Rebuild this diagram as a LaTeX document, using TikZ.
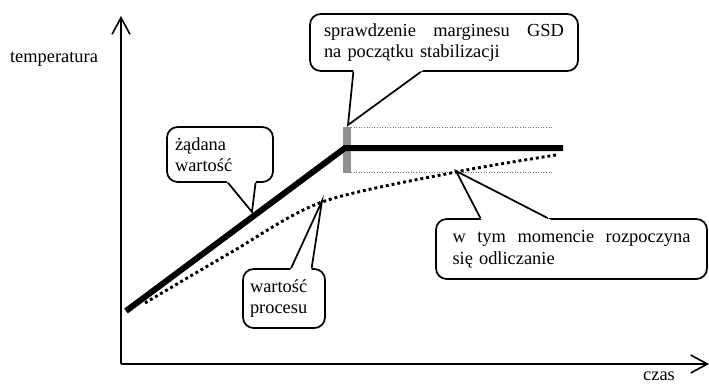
\documentclass[tikz,border=0pt]{standalone}
\usepackage{fontspec}
\setmainfont{Liberation Serif}
\usetikzlibrary{arrows.meta}
\usetikzlibrary{calc}

\begin{document}
\begin{tikzpicture}[x=0.75pt, y=-0.75pt,
    font=\fontsize{13.8}{16.1}\selectfont,
    callout/.style={draw, line width=1.3pt, rounded corners=8pt, fill=white,
      align=left, inner ysep=0pt},
    ptr/.style={line width=1.3pt, line join=miter},
    axis/.style={line width=1.2pt, -{Straight Barb[length=12.5pt, width=13.5pt, line width=1.2pt]}},
    setpoint/.style={line width=4.5pt},
    procval/.style={line width=2.2pt, dash pattern=on 2.2pt off 2.2pt},
    margin/.style={black!55, line width=0.6pt, dash pattern=on 0.75pt off 1.2pt}]
  \useasboundingbox (0,0) rectangle (709,385);

  % axes
  \coordinate (O) at (121,364);
  \coordinate (ytop) at (121,16);
  \coordinate (xend) at (709,364);
  \draw[axis] (O) -- (ytop);
  \draw[axis] (O) -- (xend);
  \node (temp) at (54,59) {temperatura};
  \node[anchor=base, inner ysep=0pt] (czas) at (659,380) {czas};

  % margin band
  \fill[black!43] (343,127) rectangle (351,173);
  \draw[margin] (351,127) -- (553,127);
  \draw[margin] (351,172) -- (553,172);

  % callouts
  \node[callout, text width=67.5pt, inner xsep=6pt, minimum height=41.25pt] (zad) at (220,154.5) {żądana\\wartość};
  \node[callout, text width=180pt, inner xsep=10.5pt, minimum height=42.75pt] (gsd) at (444,42.5)
    {sprawdzenie\hfill marginesu\hfill GSD\\na początku stabilizacji};
  \node[callout, text width=178.5pt, inner xsep=12.375pt, minimum height=45pt] (odl) at (571.5,249)
    {w\hfill tym\hfill momencie\hfill rozpoczyna\\się odliczanie};
  \node[callout, text width=51pt, inner xsep=5.25pt, minimum height=44.25pt] (proc) at (284,298.5) {wartość\\procesu};

  \coordinate (tZad) at (252,212);
  \coordinate (tGsd) at (348,125);
  \coordinate (tOdl) at (456,171);
  \coordinate (tProc) at (322,201);
  \foreach \l/\r/\pa/\pb/\tip in {zad.south west/zad.south east/0.575/0.83/tZad,
      gsd.south west/gsd.south east/0.164/0.414/tGsd,
      odl.north west/odl.north east/0.166/0.413/tOdl,
      proc.north west/proc.north east/0.585/0.83/tProc} {
    \path ($(\l)!\pa!(\r)$) coordinate (p1) ($(\l)!\pb!(\r)$) coordinate (p2);
    \fill[white] ($(\tip)!1.06!(p1)$) -- (\tip) -- ($(\tip)!1.06!(p2)$) -- cycle;
    \draw[ptr] (p1) -- (\tip) -- (p2);
  }

  % set point and process value
  \draw[setpoint] (126,311) -- (345,148) -- (563,148);
  \draw[procval] plot[smooth, tension=0.5] coordinates {(145,303) (230,253) (322,202) (456,172) (556,155)};
\end{tikzpicture}
\end{document}
